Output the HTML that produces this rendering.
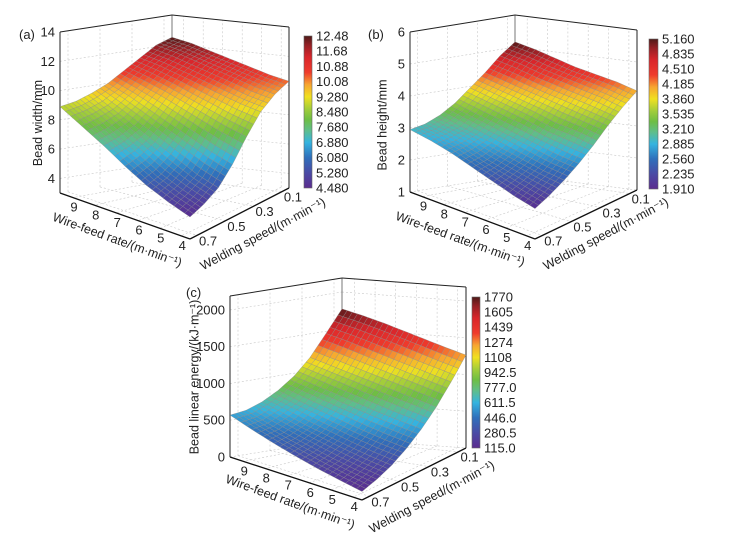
<!DOCTYPE html>
<html><head><meta charset="utf-8"><style>
html,body{margin:0;padding:0;background:#fff}
#wrap{position:relative;width:737px;height:543px;overflow:hidden}
svg{display:block;font-family:"Liberation Sans",Arial,sans-serif}
.ttl{position:absolute;white-space:nowrap;font-family:"Liberation Sans",Arial,sans-serif;font-size:12.5px;line-height:14px;color:#222;transform-origin:50% 50%}
</style></head><body>
<div id="wrap">
<svg id="fig" width="737" height="543" viewBox="0 0 737 543">
<defs>
<linearGradient id="cmap" x1="0" y1="1" x2="0" y2="0">
<stop offset="0" stop-color="#5b2c8f"/><stop offset="0.1" stop-color="#4a4aa5"/><stop offset="0.2" stop-color="#2f6fbb"/>
<stop offset="0.3" stop-color="#35b4e0"/><stop offset="0.38" stop-color="#5fbe8a"/><stop offset="0.45" stop-color="#6ebe44"/>
<stop offset="0.52" stop-color="#a2cd3a"/><stop offset="0.6" stop-color="#f0e020"/><stop offset="0.68" stop-color="#f7a531"/>
<stop offset="0.76" stop-color="#ef3b2c"/><stop offset="0.86" stop-color="#d9262b"/><stop offset="0.94" stop-color="#952025"/>
<stop offset="1" stop-color="#4e1a18"/>
</linearGradient>
</defs>
</svg>
</div>
<script>
// ---- data ----
const wireVals = [3.6, 4.6, 5.6, 6.6, 7.6, 8.6, 9.6];
const speedVals = [0.05, 0.15, 0.25, 0.35, 0.45, 0.55, 0.65, 0.75];
const widthVals = [
 [10.3, 9.9, 9.2, 8.0, 6.6, 5.5, 4.9, 4.5],
 [10.6, 10.2, 9.5, 8.4, 7.1, 6.0, 5.4, 5.0],
 [11.0, 10.6, 9.9, 8.9, 7.7, 6.7, 6.0, 5.6],
 [11.4, 11.0, 10.3, 9.4, 8.3, 7.4, 6.8, 6.4],
 [11.8, 11.4, 10.7, 9.9, 8.9, 8.1, 7.6, 7.3],
 [12.2, 11.8, 11.1, 10.3, 9.5, 8.8, 8.4, 8.1],
 [12.48, 12.1, 11.4, 10.7, 10.0, 9.5, 9.1, 8.9]];
const heightVals = [
 [4.1, 3.8, 3.45, 3.05, 2.7, 2.4, 2.15, 1.95],
 [4.3, 4.0, 3.6, 3.2, 2.8, 2.5, 2.3, 2.1],
 [4.45, 4.15, 3.75, 3.3, 2.95, 2.65, 2.45, 2.3],
 [4.6, 4.3, 3.9, 3.5, 3.1, 2.8, 2.6, 2.5],
 [4.8, 4.45, 4.05, 3.65, 3.25, 2.95, 2.8, 2.7],
 [5.0, 4.65, 4.2, 3.8, 3.4, 3.1, 2.95, 2.85],
 [5.16, 4.8, 4.35, 3.95, 3.55, 3.25, 3.05, 2.95]];
const energyVals = [
 [1265, 1000, 760, 560, 400, 270, 180, 115],
 [1350, 1080, 830, 620, 450, 320, 230, 170],
 [1440, 1160, 900, 680, 510, 380, 290, 230],
 [1530, 1240, 970, 750, 580, 450, 360, 300],
 [1620, 1320, 1040, 820, 650, 520, 430, 380],
 [1700, 1400, 1110, 890, 720, 600, 510, 470],
 [1770, 1470, 1180, 960, 800, 680, 600, 570]];
const wireTicks = [4, 5, 6, 7, 8, 9];
const speedTicks = [0.1, 0.3, 0.5, 0.7];
const widthTicks = [4, 6, 8, 10, 12, 14];
const heightTicks = [1, 2, 3, 4, 5, 6];
const energyTicks = [0, 500, 1000, 1500, 2000];
const widthBarLabels = ["12.48","11.68","10.88","10.08","9.280","8.480","7.680","6.880","6.080","5.280","4.480"];
const heightBarLabels = ["5.160","4.835","4.510","4.185","3.860","3.535","3.210","2.885","2.560","2.235","1.910"];
const energyBarLabels = ["1770","1605","1439","1274","1108","942.5","777.0","611.5","446.0","280.5","115.0"];

const NS = "http://www.w3.org/2000/svg";
const svg = document.getElementById('fig');
const wrap = document.getElementById('wrap');
const stops = [[0,[91,44,143]],[0.1,[74,74,165]],[0.2,[47,111,187]],[0.3,[53,180,224]],[0.38,[95,190,138]],[0.45,[110,190,68]],[0.52,[162,205,58]],[0.6,[240,224,32]],[0.68,[247,165,49]],[0.76,[239,59,44]],[0.86,[217,38,43]],[0.94,[149,32,37]],[1,[78,26,24]]];
function cmap(t){t=Math.max(0,Math.min(1,t));for(let i=1;i<stops.length;i++){if(t<=stops[i][0]){const a=stops[i-1],b=stops[i];const f=(t-a[0])/(b[0]-a[0]);return 'rgb('+a[1].map((c,k)=>Math.round(c+(b[1][k]-c)*f)).join(',')+')';}}return 'rgb(78,26,24)';}
function mk(tag,attrs,parent){const e=document.createElementNS(NS,tag);for(const k in attrs)e.setAttribute(k,attrs[k]);(parent||svg).appendChild(e);return e;}

function drawPanel(p){
  const g=mk('g',{});
  
  
  const W0=wireVals[0],W1=wireVals[wireVals.length-1],S0=speedVals[0],S1=speedVals[speedVals.length-1];
  function proj(w,s,z){
    const wn=(w-W0)/(W1-W0), sn=(s-S0)/(S1-S0);
    const bx=(1-wn)*(1-sn)*p.R[0]+(1-wn)*sn*p.F[0]+wn*sn*p.L[0]+wn*(1-sn)*p.B[0];
    const by=(1-wn)*(1-sn)*p.R[1]+(1-wn)*sn*p.F[1]+wn*sn*p.L[1]+wn*(1-sn)*p.B[1];
    const zn=(z-p.z0)/(p.z1-p.z0);
    return [bx,by-zn*p.H];
  }
  const line=(a,b,st,nm)=>{const l=mk('line',{x1:a[0].toFixed(1),y1:a[1].toFixed(1),x2:b[0].toFixed(1),y2:b[1].toFixed(1),stroke:st.c,'stroke-width':st.w},g);if(st.d)l.setAttribute('stroke-dasharray',st.d);return l;};
  const grid={c:'#c8c8c8',w:0.6,d:'2,2'};
  p.zt.forEach(z=>{line(proj(W1,S1,z),proj(W1,S0,z),grid,'grid-line');line(proj(W1,S0,z),proj(W0,S0,z),grid,'grid-line');});
  wireTicks.forEach(w=>{line(proj(w,S0,p.z0),proj(w,S0,p.z1),grid,'grid-line');line(proj(w,S0,p.z0),proj(w,S1,p.z0),grid,'grid-line');});
  speedTicks.forEach(s=>{line(proj(W1,s,p.z0),proj(W1,s,p.z1),grid,'grid-line');line(proj(W1,s,p.z0),proj(W0,s,p.z0),grid,'grid-line');});
  const blk={c:'#222',w:1};
  line(proj(W1,S0,p.z0),proj(W1,S0,p.z1),{c:'#555',w:0.8},'box-edge');
  line(proj(W1,S1,p.z0),proj(W1,S1,p.z1),blk,'box-edge');
  line(proj(W0,S0,p.z0),proj(W0,S0,p.z1),blk,'box-edge');
  line(proj(W1,S1,p.z1),proj(W1,S0,p.z1),blk,'box-edge');
  line(proj(W1,S0,p.z1),proj(W0,S0,p.z1),blk,'box-edge');
  line(proj(W1,S1,p.z0),proj(W0,S1,p.z0),{c:'#111',w:1.3},'wire-axis-line');
  line(proj(W0,S1,p.z0),proj(W0,S0,p.z0),{c:'#111',w:1.3},'speed-axis-line');
  const vals=p.vals, n=4, quads=[];
  const vmin=p.cmin, vmax=p.cmax;
  for(let i=0;i<wireVals.length-1;i++)for(let j=0;j<speedVals.length-1;j++){
    for(let a=0;a<n;a++)for(let b=0;b<n;b++){
      const pts=[],zs=[];
      [[a,b],[a+1,b],[a+1,b+1],[a,b+1]].forEach(([u,v])=>{
        const fu=u/n,fv=v/n;
        const z=(1-fu)*(1-fv)*vals[i][j]+fu*(1-fv)*vals[i+1][j]+fu*fv*vals[i+1][j+1]+(1-fu)*fv*vals[i][j+1];
        const w=wireVals[i]+fu*(wireVals[i+1]-wireVals[i]);
        const s=speedVals[j]+fv*(speedVals[j+1]-speedVals[j]);
        pts.push(proj(w,s,z));zs.push(z);
      });
      const wn=(wireVals[i]+(a+0.5)/n*(wireVals[i+1]-wireVals[i])-W0)/(W1-W0);
      const sn=(speedVals[j]+(b+0.5)/n*(speedVals[j+1]-speedVals[j])-S0)/(S1-S0);
      quads.push({pts,z:zs.reduce((x,y)=>x+y)/4,d:wn+(1-sn)});
    }
  }
  quads.sort((x,y)=>y.d-x.d);
  quads.forEach(q=>{
    const pg=mk('polygon',{points:q.pts.map(t=>t[0].toFixed(1)+','+t[1].toFixed(1)).join(' '),fill:cmap((q.z-vmin)/(vmax-vmin)),stroke:'rgba(140,140,140,0.75)','stroke-width':0.45},g);
    
    
  });
  const txt=(x,y,s,nm,extra)=>{const t=mk('text',Object.assign({x:x.toFixed(1),y:y.toFixed(1),'font-size':13,fill:'#222'},extra||{}),g);t.textContent=s;return t;};
  p.zt.forEach(z=>{const q=proj(W1,S1,z);txt(q[0]-5,q[1]+4.5,String(z),'z-tick-label',{'text-anchor':'end'});});
  wireTicks.forEach(w=>{const q=proj(w,S1,p.z0);txt(q[0]+1,q[1]+14,String(w),'wire-tick-label',{'text-anchor':'middle'});});
  speedTicks.forEach(s=>{const q=proj(W0,s,p.z0);txt(q[0]+11,q[1]+10,String(s),'speed-tick-label',{'text-anchor':'middle'});});
  function rtitle(cx,cy,ang,s,nm){
    const d=document.createElement('div');
    d.className='ttl';
    d.textContent=s;
    
    
    wrap.appendChild(d);
    const w=d.offsetWidth,h=d.offsetHeight;
    d.style.left=(cx-w/2)+'px';
    d.style.top=(cy-h/2)+'px';
    d.style.transform='rotate('+ang+'deg)';
  }
  rtitle(p.zt_title[0],p.zt_title[1],-90,p.ztitle,'z-axis-title');
  rtitle(p.wt[0],p.wt[1],20,'Wire-feed rate/(m·min⁻¹)','wire-axis-title');
  rtitle(p.st[0],p.st[1],-28,'Welding speed/(m·min⁻¹)','speed-axis-title');
  txt(p.lab[0],p.lab[1],p.label,'panel-label',{});
  const cb=mk('rect',{x:p.cb[0],y:p.cb[1],width:p.cb[2],height:p.cb[3]-p.cb[1],fill:'url(#cmap)',stroke:'#666','stroke-width':0.6},g);
  
  
  p.bl.forEach((s,k)=>{const y=p.cb[1]+k*(p.cb[3]-p.cb[1])/(p.bl.length-1);txt(p.cb[0]+p.cb[2]+4,y+4.5,s,'colorbar-label',{});});
}
drawPanel({name:'panel-a-bead-width',L:[60,193],B:[172,176],R:[289,188],F:[190,239],H:161,z0:3,z1:14,zt:widthTicks,vals:widthVals,cmin:4.48,cmax:12.48,
  ztitle:'Bead width/mm',zt_title:[38,123],wt:[117,240],st:[263,234],lab:[19,39],label:'(a)',cb:[304,36,8,188],bl:widthBarLabels});
drawPanel({name:'panel-b-bead-height',L:[410,192],B:[515,175],R:[637,190],F:[535,239],H:160,z0:1,z1:6,zt:heightTicks,vals:heightVals,cmin:1.91,cmax:5.16,
  ztitle:'Bead height/mm',zt_title:[382,125],wt:[460,239],st:[606,234],lab:[368,39],label:'(b)',cb:[649,39,9,189],bl:heightBarLabels});
drawPanel({name:'panel-c-linear-energy',L:[230,457],B:[342,439],R:[466,448],F:[362,500],H:161,z0:0,z1:2190,zt:energyTicks,vals:energyVals,cmin:115,cmax:1770,
  ztitle:'Bead linear energy/(kJ·m⁻¹)',zt_title:[194,377],wt:[290,502],st:[432,497],lab:[186,297],label:'(c)',cb:[472,297,8,448],bl:energyBarLabels});
</script>
</body></html>
